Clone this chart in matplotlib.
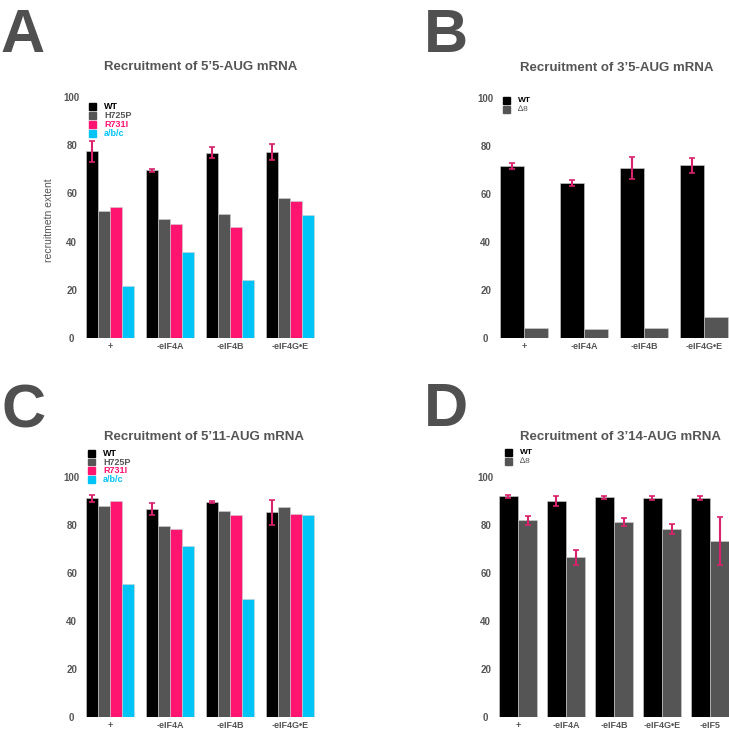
import numpy as np
import matplotlib
matplotlib.use("Agg")
import matplotlib.pyplot as plt

plt.rcParams['font.family'] = ['Liberation Sans', 'DejaVu Sans']

# colours used in the original figure
c_wt = '#000000'
c_h725p = '#555555'
c_r731i = '#ff1470'
c_abc = '#00c3f6'
c_err = '#d8226c'
c_text = '#555555'

# Panel A: 5'5-AUG mRNA
groups_a = ['+', '-eIF4A', '-eIF4B', '-eIF4G\u2022E']
a_wt = [77.4, 69.6, 76.9, 77.3]
a_wt_err = [4.3, 0.7, 2.3, 3.4]
a_h725p = [52.6, 49.2, 51.3, 58.0]
a_r731i = [54.4, 47.3, 46.2, 56.7]
a_abc = [21.6, 35.7, 24.2, 51.0]

# Panel B: 3'5-AUG mRNA
groups_b = ['+', '-eIF4A', '-eIF4B', '-eIF4G\u2022E']
b_wt = [71.7, 64.6, 70.9, 72.0]
b_wt_err = [1.25, 1.3, 4.6, 3.1]
b_d8 = [4.3, 3.8, 4.0, 8.6]

# Panel C: 5'11-AUG mRNA
groups_c = ['+', '-eIF4A', '-eIF4B', '-eIF4G\u2022E']
c_wt_vals = [91.1, 86.6, 89.6, 85.4]
c_wt_err = [1.5, 2.4, 0.3, 5.2]
c_h725p_vals = [88.0, 79.7, 85.8, 87.5]
c_r731i_vals = [90.1, 78.4, 84.3, 84.5]
c_abc_vals = [55.3, 71.3, 49.0, 84.0]

# Panel D: 3'14-AUG mRNA
groups_d = ['+', '-eIF4A', '-eIF4B', '-eIF4G\u2022E', '-eIF5']
d_wt = [91.9, 90.0, 91.5, 91.2, 91.2]
d_wt_err = [0.5, 1.9, 0.6, 0.8, 0.8]
d_d8 = [81.9, 66.6, 81.2, 78.4, 73.3]
d_d8_err = [1.7, 3.1, 1.8, 2.0, 9.9]

W, H = 729, 733
fig = plt.figure(figsize=(W / 100, H / 100), dpi=100)


def make_axes(left, bottom_px, top_px, width=240):
    # pixel coordinates measured from the top-left of the picture
    return fig.add_axes([left / W, 1 - bottom_px / H, width / W, (bottom_px - top_px) / H])


def style_axes(ax, groups, title, title_x, title_y):
    ax.set_ylim(0, 100)
    ax.set_xlim(-0.5, len(groups) - 0.5)
    for s in ax.spines.values():
        s.set_visible(False)
    ax.set_yticks([0, 20, 40, 60, 80, 100])
    ax.tick_params(axis='y', length=0, pad=6, labelsize=7, labelcolor=c_text)
    ax.tick_params(axis='x', length=0, pad=3, labelsize=6.5, labelcolor=c_text)
    for lab in ax.get_yticklabels():
        lab.set_horizontalalignment('center')
        lab.set_fontweight('bold')
    ax.set_xticks(np.arange(len(groups)))
    ax.set_xticklabels(groups, fontweight='bold')
    fig.text(title_x / W, 1 - title_y / H, title, ha='center', va='center',
             fontsize=9.5, fontweight='bold', color=c_text)


def draw_legend(x_px, y_px, labels, colors, text_colors, weights, size=6.5, step=9):
    for i, (lab, col, tc, fw) in enumerate(zip(labels, colors, text_colors, weights)):
        yy = y_px + i * step
        fig.patches.append(plt.Rectangle((x_px / W, 1 - (yy + 6.5) / H), 7 / W, 6.5 / H,
                                         transform=fig.transFigure, color=col))
        fig.text((x_px + 15) / W, 1 - (yy + 3.5) / H, lab, ha='left', va='center',
                 fontsize=size, fontweight=fw, color=tc)


def err_kw():
    return dict(ecolor=c_err, elinewidth=1.5, capsize=2, capthick=1.2)


edge = dict(edgecolor='#d0d0d0', linewidth=0.4)

# ---- A
ax = make_axes(80, 338, 97)
x = np.arange(len(groups_a))
w = 0.2
ax.bar(x - 0.3, a_wt, w, color=c_wt, yerr=a_wt_err, error_kw=err_kw(), **edge)
ax.bar(x - 0.1, a_h725p, w, color=c_h725p, **edge)
ax.bar(x + 0.1, a_r731i, w, color=c_r731i, **edge)
ax.bar(x + 0.3, a_abc, w, color=c_abc, **edge)
style_axes(ax, groups_a, 'Recruitment of 5\u20195-AUG mRNA', 201, 67)
fig.text(49 / W, 1 - 220 / H, 'recruitmetn extent', rotation=90, ha='center', va='center',
         fontsize=7.5, color=c_text)
draw_legend(89, 103, ['WT', 'H725P', 'R731I', 'a/b/c'],
            [c_wt, c_h725p, c_r731i, c_abc], [c_wt, c_h725p, c_r731i, c_abc],
            ['bold', 'bold', 'bold', 'bold'])

# ---- B
ax = make_axes(494, 338, 98)
x = np.arange(len(groups_b))
w = 0.4
ax.bar(x - 0.2, b_wt, w, color=c_wt, yerr=b_wt_err, error_kw=err_kw(), **edge)
ax.bar(x + 0.2, b_d8, w, color=c_h725p, **edge)
style_axes(ax, groups_b, 'Recruitment of 3\u20195-AUG mRNA', 617, 68)
draw_legend(503, 97, ['WT', '\u22068'], [c_wt, c_h725p], [c_wt, c_h725p],
            ['bold', 'normal'], size=6)

# ---- C
ax = make_axes(80, 717, 477)
x = np.arange(len(groups_c))
w = 0.2
ax.bar(x - 0.3, c_wt_vals, w, color=c_wt, yerr=c_wt_err, error_kw=err_kw(), **edge)
ax.bar(x - 0.1, c_h725p_vals, w, color=c_h725p, **edge)
ax.bar(x + 0.1, c_r731i_vals, w, color=c_r731i, **edge)
ax.bar(x + 0.3, c_abc_vals, w, color=c_abc, **edge)
style_axes(ax, groups_c, 'Recruitment of 5\u201911-AUG mRNA', 204, 437)
draw_legend(88, 450, ['WT', 'H725P', 'R731I', 'a/b/c'],
            [c_wt, c_h725p, c_r731i, c_abc], [c_wt, c_h725p, c_r731i, c_abc],
            ['bold', 'bold', 'bold', 'bold'], step=8.7)

# ---- D
ax = make_axes(494, 717, 477)
x = np.arange(len(groups_d))
w = 0.4
ax.bar(x - 0.2, d_wt, w, color=c_wt, yerr=d_wt_err, error_kw=err_kw(), **edge)
ax.bar(x + 0.2, d_d8, w, color=c_h725p, yerr=d_d8_err, error_kw=err_kw(), **edge)
style_axes(ax, groups_d, 'Recruitment of 3\u201914-AUG mRNA', 621, 437)
draw_legend(505, 449, ['WT', '\u22068'], [c_wt, c_h725p], [c_wt, c_h725p],
            ['bold', 'normal'], size=6)

# panel letters
for letter, lx, ly in [('A', 0, 52), ('B', 424, 52), ('C', 1, 427), ('D', 424, 426)]:
    fig.text(lx / W, 1 - ly / H, letter, ha='left', va='baseline', fontsize=44,
             fontweight='bold', color='#505050')

fig.savefig('out.png', dpi=100)
